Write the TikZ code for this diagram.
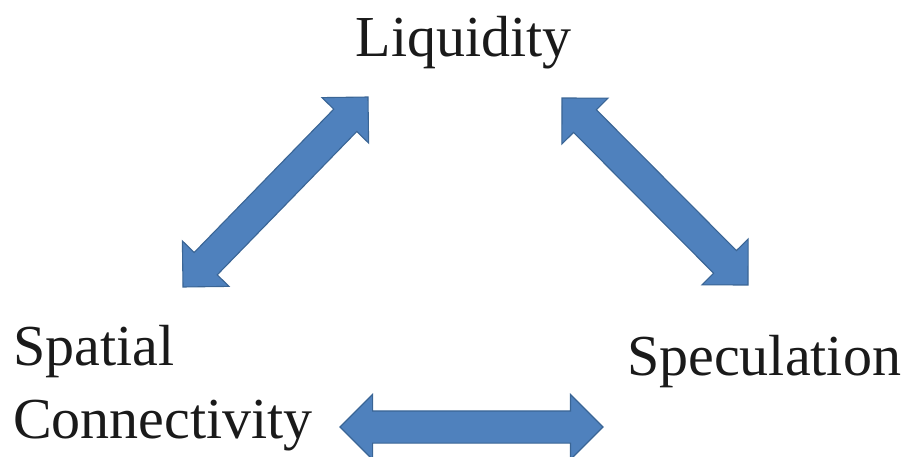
\documentclass[tikz,border=0pt]{standalone}
\usepackage{fontspec}
\setmainfont{Liberation Serif}
\usepackage{tikz}
\usetikzlibrary{shapes.arrows,calc}
\definecolor{triadBlue}{HTML}{4F81BD}
\definecolor{triadEdge}{HTML}{3A6595}
\definecolor{triadInk}{HTML}{1A1A1A}
\tikzset{
    triad/label/.style={
        inner sep=0pt, text=triadInk, align=left,
        font=\fontsize{58}{73}\selectfont
    },
    triad/block/.style={
        double arrow, double arrow tip angle=90,
        double arrow head extend=16.5pt,
        inner xsep=0pt, inner ysep=15.5pt,
        fill=triadBlue, draw=triadEdge, line width=1.1pt
    },
    triad/link/.style={
        to path={
            let \p1=($(\tikztotarget)-(\tikztostart)$),
                \n1={veclen(\x1,\y1)}, \n2={atan2(\y1,\x1)}
            in node[triad/block, rotate=\n2, minimum height=\n1]
                at ($(\tikztostart)!0.5!(\tikztotarget)$) {}
        }
    }
}

\begin{document}
\begin{tikzpicture}[x=1pt, y=1pt]
    \useasboundingbox (0,0) rectangle (915,456);

    \node[triad/label, anchor=base] (liq) at (463.5,399) {Liquidity};
    \node[triad/label, anchor=base west] (spa) at (13,18)
        {Spatial\\Connectivity};
    \node[triad/label, anchor=base west] (spe) at (627,81) {Speculation};

    % ends of the block arrows
    \coordinate (spaTop) at (183,169);
    \coordinate (liqLeft) at (368,359);
    \coordinate (liqRight) at (562,358);
    \coordinate (speTop) at (748,171);
    \coordinate (spaRight) at (340,29);
    \coordinate (speLeft) at (603,29);

    \path (spaTop) to[triad/link] (liqLeft);
    \path (liqRight) to[triad/link] (speTop);
    \path (spaRight) to[triad/link] (speLeft);
\end{tikzpicture}
\end{document}
